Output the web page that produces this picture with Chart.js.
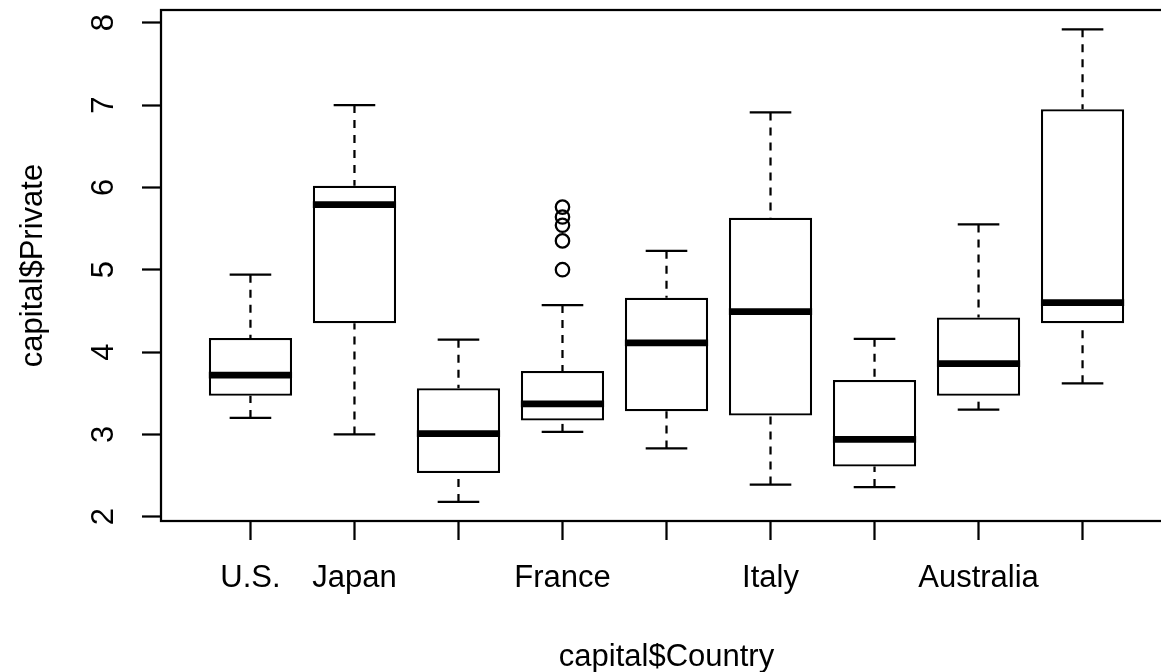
<!DOCTYPE html>
<html>
<head>
<meta charset="utf-8">
<title>capital$Private by capital$Country</title>
<script src="https://cdn.jsdelivr.net/npm/chart.js@4"></script>
<style>
    html, body { margin: 0; padding: 0; background: #fff; overflow: hidden; }
    #wrap { width: 1200px; height: 672px; }
</style>
</head>
<body>
<div id="wrap"><canvas id="boxChart" width="1200" height="672"></canvas></div>
<script>
// Box plot data (one entry per country)
const countries = ['U.S.', 'Japan', 'Germany', 'France', 'U.K.', 'Italy', 'Canada', 'Australia', 'Spain'];
// R drops the labels that would overlap, so only some are printed
const tickLabels = ['U.S.', 'Japan', '', 'France', '', 'Italy', '', 'Australia', ''];
const lowerWhisker = [3.20, 3.00, 2.18, 3.03, 2.83, 2.39, 2.36, 3.30, 3.62];
const lowerQuartile = [3.47, 4.35, 2.53, 3.17, 3.28, 3.23, 2.61, 3.47, 4.35];
const medians = [3.72, 5.79, 3.01, 3.37, 4.11, 4.49, 2.94, 3.86, 4.60];
const upperQuartile = [4.17, 6.02, 3.56, 3.77, 4.66, 5.63, 3.66, 4.42, 6.95];
const upperWhisker = [4.94, 7.00, 4.15, 4.57, 5.23, 6.91, 4.16, 5.55, 7.92];
const outlierCountry = [4, 4, 4, 4, 4];
const outlierValue = [5.00, 5.35, 5.54, 5.64, 5.76];
const yTicks = [2, 3, 4, 5, 6, 7, 8];

const FONT = '"Liberation Sans", Arial, Helvetica, sans-serif';
const LINE = 2.25;

Chart.defaults.font.family = FONT;
Chart.defaults.color = '#000';

/**
 * Whiskers, staples, medians and the plot frame
 */
const boxExtras = {
    id: 'boxExtras',
    afterDatasetsDraw(chart) {
        const {ctx, chartArea, scales: {x, y}} = chart;
        const unit = x.getPixelForValue(2) - x.getPixelForValue(1);
        const boxHalf = unit * 0.4;
        const capHalf = unit * 0.2;

        ctx.save();
        ctx.strokeStyle = '#000';
        countries.forEach(function(name, i) {
            const cx = x.getPixelForValue(i + 1);
            const yLow = y.getPixelForValue(lowerWhisker[i]);
            const yHigh = y.getPixelForValue(upperWhisker[i]);

            // dashed whiskers, from the staple towards the box
            ctx.lineWidth = LINE;
            ctx.lineCap = 'butt';
            ctx.setLineDash([8, 7]);
            ctx.beginPath();
            ctx.moveTo(cx, yHigh);
            ctx.lineTo(cx, y.getPixelForValue(upperQuartile[i]));
            ctx.stroke();
            ctx.beginPath();
            ctx.moveTo(cx, yLow);
            ctx.lineTo(cx, y.getPixelForValue(lowerQuartile[i]));
            ctx.stroke();
            ctx.setLineDash([]);

            // staples
            ctx.beginPath();
            ctx.moveTo(cx - capHalf, yHigh);
            ctx.lineTo(cx + capHalf, yHigh);
            ctx.moveTo(cx - capHalf, yLow);
            ctx.lineTo(cx + capHalf, yLow);
            ctx.stroke();

            // median
            const yMed = y.getPixelForValue(medians[i]);
            ctx.lineWidth = LINE * 3;
            ctx.beginPath();
            ctx.moveTo(cx - boxHalf, yMed);
            ctx.lineTo(cx + boxHalf, yMed);
            ctx.stroke();
        });

        // frame round the plot region
        ctx.lineWidth = LINE;
        ctx.strokeRect(chartArea.left, chartArea.top, chartArea.width, chartArea.height);
        ctx.restore();
    }
};

const ctx = document.getElementById('boxChart').getContext('2d');
new Chart(ctx, {
    type: 'bar',
    data: {
        datasets: [{
            type: 'bar',
            label: 'box',
            data: countries.map((c, i) => ({x: i + 1, y: [lowerQuartile[i], upperQuartile[i]]})),
            backgroundColor: '#fff',
            borderColor: '#000',
            borderWidth: LINE,
            borderSkipped: false,
            categoryPercentage: 0.8,
            barPercentage: 1.0
        }, {
            type: 'scatter',
            label: 'outliers',
            data: outlierValue.map((v, k) => ({x: outlierCountry[k], y: v})),
            showLine: false,
            pointStyle: 'circle',
            pointRadius: 6.7,
            pointBorderWidth: LINE,
            pointBorderColor: '#000',
            pointBackgroundColor: 'rgba(0,0,0,0)'
        }]
    },
    options: {
        responsive: false,
        devicePixelRatio: 1,
        animation: false,
        events: [],
        layout: { padding: { top: 10, right: 28, bottom: 0, left: 0 } },
        plugins: {
            legend: { display: false },
            tooltip: { enabled: false }
        },
        scales: {
            x: {
                type: 'linear',
                min: 0.14,
                max: 9.86,
                offset: false,
                afterBuildTicks: function(s) {
                    s.ticks = countries.map((c, i) => ({value: i + 1}));
                },
                afterFit: function(s) {
                    s.height = 151;
                    s.paddingLeft = 0;
                    s.paddingRight = 0;
                },
                border: { display: false },
                grid: {
                    offset: false,
                    drawOnChartArea: false,
                    drawTicks: true,
                    tickLength: 19,
                    tickWidth: LINE,
                    tickColor: '#000'
                },
                ticks: {
                    autoSkip: false,
                    minRotation: 0,
                    maxRotation: 0,
                    padding: 20,
                    color: '#000',
                    font: { size: 31 },
                    callback: function(value) {
                        return tickLabels[value - 1];
                    }
                },
                title: {
                    display: true,
                    text: 'capital$Country',
                    color: '#000',
                    font: { size: 31 },
                    padding: { top: 0, bottom: -4 }
                }
            },
            y: {
                type: 'linear',
                min: 1.948,
                max: 8.154,
                afterBuildTicks: function(s) {
                    s.ticks = yTicks.map(v => ({value: v}));
                },
                afterFit: function(s) {
                    s.width = 161;
                    s.paddingTop = 0;
                    s.paddingBottom = 0;
                },
                border: { display: false },
                grid: {
                    drawOnChartArea: false,
                    drawTicks: true,
                    tickLength: 19,
                    tickWidth: LINE,
                    tickColor: '#000'
                },
                ticks: {
                    autoSkip: false,
                    minRotation: 90,
                    maxRotation: 90,
                    crossAlign: 'center',
                    padding: 29,
                    color: '#000',
                    font: { size: 31 }
                },
                title: {
                    display: true,
                    text: 'capital$Private',
                    color: '#000',
                    font: { size: 31 },
                    padding: { top: 15, bottom: 0 }
                }
            }
        }
    },
    plugins: [boxExtras]
});
</script>
</body>
</html>
